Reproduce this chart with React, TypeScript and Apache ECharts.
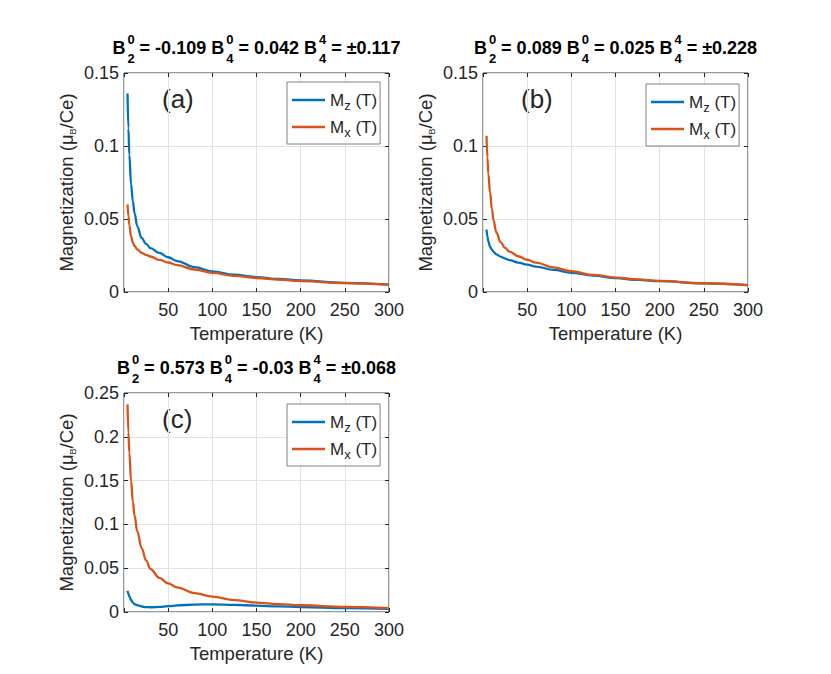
import React, { useEffect, useRef } from "react";
import * as echarts from "echarts";

// ---------- data ----------
const temperature = [4, 5, 6, 8, 10, 12, 15, 20, 25, 30, 40, 50, 60, 80, 100, 125, 150, 175, 200, 250, 300];

const mzA = [0.136, 0.112, 0.094, 0.074, 0.062, 0.054, 0.045, 0.037, 0.033, 0.030, 0.0268, 0.0238, 0.0212, 0.0170, 0.0141, 0.0118, 0.0102, 0.0089, 0.0079, 0.0063, 0.0051];
const mxA = [0.060, 0.052, 0.046, 0.038, 0.034, 0.0315, 0.0292, 0.0268, 0.0254, 0.0243, 0.0220, 0.0202, 0.0184, 0.0154, 0.0131, 0.0111, 0.0096, 0.0085, 0.0075, 0.0061, 0.0050];

const mzB = [0.0428, 0.038, 0.0348, 0.031, 0.029, 0.0275, 0.0258, 0.0242, 0.0229, 0.0218, 0.0201, 0.0187, 0.0174, 0.0151, 0.0132, 0.0112, 0.0095, 0.0083, 0.0074, 0.0059, 0.0047];
const mxB = [0.107, 0.092, 0.081, 0.068, 0.057, 0.049, 0.041, 0.034, 0.0302, 0.0276, 0.0245, 0.0221, 0.0201, 0.0168, 0.0143, 0.0117, 0.0099, 0.0086, 0.0076, 0.0060, 0.0047];

const mzC = [0.0243, 0.021, 0.018, 0.0138, 0.0108, 0.0089, 0.0078, 0.0063, 0.0056, 0.0054, 0.0058, 0.0067, 0.0075, 0.0085, 0.0087, 0.0082, 0.0072, 0.0064, 0.0057, 0.0045, 0.0036];
const mxC = [0.237, 0.205, 0.182, 0.150, 0.126, 0.110, 0.092, 0.073, 0.059, 0.049, 0.039, 0.0327, 0.028, 0.0215, 0.0175, 0.0136, 0.0108, 0.0090, 0.0077, 0.0058, 0.0044];

const panelLabels = ["(a)", "(b)", "(c)"];
const b20 = ["-0.109", "0.089", "0.573"];
const b40 = ["0.042", "0.025", "-0.03"];
const b44 = ["±0.117", "±0.228", "±0.068"];
const yMax = [0.15, 0.15, 0.25];
const xTicks = { min: 0, max: 300, interval: 50 };
const yInterval = 0.05;

const mzSeries = [mzA, mzB, mzC];
const mxSeries = [mxA, mxB, mxC];

// ---------- style ----------
const FONT = "'Liberation Sans', Arial, Helvetica, sans-serif";
const TXT = "#262626";
const BLUE = "#0072BD";
const RED = "#D95319";

const grids = [
  { left: 124, top: 73, width: 265, height: 219 },
  { left: 483, top: 73, width: 265, height: 219 },
  { left: 124, top: 393, width: 265, height: 219 },
];
const legendPos = [
  { left: 287, top: 82 },
  { left: 646, top: 84 },
  { left: 287, top: 404 },
];

function measure(text: string, font: string): number {
  const c = document.createElement("canvas");
  const ctx = c.getContext("2d")!;
  ctx.font = font;
  return ctx.measureText(text).width;
}

function titleElements(p: number) {
  const g = grids[p];
  const cx = g.left + g.width / 2;
  const cy = g.top - 25;
  const mainFont = `bold 18px ${FONT}`;
  const scriptFont = `bold 13px ${FONT}`;
  const segs: any[] = [
    { main: "B" },
    { sup: "0", sub: "2" },
    { main: ` = ${b20[p]} B` },
    { sup: "0", sub: "4" },
    { main: ` = ${b40[p]} B` },
    { sup: "4", sub: "4" },
    { main: ` = ${b44[p]}` },
  ];
  let total = 0;
  segs.forEach((s) => {
    if (s.main) s.w = measure(s.main, mainFont);
    else s.w = Math.max(measure(s.sup, scriptFont), measure(s.sub, scriptFont)) + 2;
    total += s.w;
  });
  let x = cx - total / 2;
  const els: any[] = [];
  const st = (text: string, font: string) => ({
    text,
    font,
    fill: "#000",
    textAlign: "left",
    textVerticalAlign: "middle",
    align: "left",
    verticalAlign: "middle",
  });
  segs.forEach((s) => {
    if (s.main) {
      els.push({ type: "text", x, y: cy, silent: true, style: st(s.main, mainFont) });
    } else {
      els.push({ type: "text", x: x + 2, y: cy - 9, silent: true, style: st(s.sup, scriptFont) });
      els.push({ type: "text", x: x + 2, y: cy + 10, silent: true, style: st(s.sub, scriptFont) });
    }
    x += s.w;
  });
  return els;
}

export default function App() {
  const ref = useRef<HTMLDivElement>(null);

  useEffect(() => {
    if (!ref.current) return;
    const chart = echarts.init(ref.current, null, { renderer: "svg" });

    const xAxes: any[] = [];
    const yAxes: any[] = [];
    const series: any[] = [];
    const legends: any[] = [];
    const graphics: any[] = [];

    grids.forEach((g, i) => {
      xAxes.push({
        type: "value",
        gridIndex: i,
        position: "bottom",
        min: xTicks.min,
        max: xTicks.max,
        interval: xTicks.interval,
        name: "Temperature (K)",
        nameLocation: "middle",
        nameGap: 32,
        nameTextStyle: { fontFamily: FONT, fontSize: 18.5, color: TXT },
        axisLine: { show: false, onZero: false },
        axisTick: { show: true, inside: true, length: 4, lineStyle: { color: TXT } },
        axisLabel: {
          margin: 9,
          fontFamily: FONT,
          fontSize: 18,
          color: TXT,
          formatter: (v: number) => (v === 0 ? "" : String(v)),
        },
        splitLine: { show: true, lineStyle: { color: "#e3e3e3", width: 1 } },
      });
      yAxes.push({
        type: "value",
        gridIndex: i,
        position: "left",
        min: 0,
        max: yMax[i],
        interval: yInterval,
        name: "{a|Magnetization (μ}{b|B}{a|/Ce)}",
        nameLocation: "middle",
        nameRotate: 90,
        nameGap: 47,
        nameTextStyle: {
          fontFamily: FONT,
          color: TXT,
          rich: {
            a: { fontFamily: FONT, fontSize: 18.5, color: TXT, lineHeight: 22 },
            b: { fontFamily: FONT, fontSize: 9, color: TXT, lineHeight: 6, verticalAlign: "bottom" },
          },
        },
        axisLine: { show: false, onZero: false },
        axisTick: { show: true, inside: true, length: 4, lineStyle: { color: TXT } },
        axisLabel: { margin: 5, fontFamily: FONT, fontSize: 18, color: TXT },
        splitLine: { show: true, lineStyle: { color: "#e3e3e3", width: 1 } },
      });

      const nameZ = `Mz ${panelLabels[i]}`;
      const nameX = `Mx ${panelLabels[i]}`;
      series.push({
        type: "line",
        name: nameZ,
        xAxisIndex: i,
        yAxisIndex: i,
        data: temperature.map((t, k) => [t, mzSeries[i][k]]),
        showSymbol: false,
        smooth: 0.4,
        smoothMonotone: "x",
        color: BLUE,
        lineStyle: { color: BLUE, width: 2.3 },
        z: 3,
      });
      series.push({
        type: "line",
        name: nameX,
        xAxisIndex: i,
        yAxisIndex: i,
        data: temperature.map((t, k) => [t, mxSeries[i][k]]),
        showSymbol: false,
        smooth: 0.4,
        smoothMonotone: "x",
        color: RED,
        lineStyle: { color: RED, width: 2.3 },
        z: 4,
      });

      legends.push({
        data: [nameZ, nameX],
        orient: "vertical",
        left: legendPos[i].left,
        top: legendPos[i].top,
        padding: [6, 3, 5, 5],
        itemGap: 3,
        itemWidth: 33,
        itemHeight: 2.5,
        icon: "rect",
        selectedMode: false,
        backgroundColor: "#fff",
        borderColor: "#808080",
        borderWidth: 1,
        borderRadius: 0,
        formatter: (name: string) =>
          name.startsWith("Mz") ? "{m|M}{s|z}{m| (T)}" : "{m|M}{s|x}{m| (T)}",
        textStyle: {
          color: TXT,
          fontFamily: FONT,
          lineHeight: 24,
          rich: {
            m: { fontFamily: FONT, fontSize: 17, color: TXT, lineHeight: 24 },
            s: { fontFamily: FONT, fontSize: 13, color: TXT, lineHeight: 5, verticalAlign: "bottom" },
          },
        },
      });

      graphics.push({
        type: "text",
        left: g.left + 54 - 16,
        top: g.top + 28 - 15,
        silent: true,
        style: { text: panelLabels[i], font: `26px ${FONT}`, fill: TXT },
      });
      titleElements(i).forEach((e) => graphics.push(e));
    });

    // top / right mirror axes (ticks only), like MATLAB's box
    grids.forEach((g, i) => {
      xAxes.push({
        type: "value",
        gridIndex: i,
        position: "top",
        min: xTicks.min,
        max: xTicks.max,
        interval: xTicks.interval,
        axisLine: { show: false, onZero: false },
        axisTick: { show: true, inside: true, length: 4, lineStyle: { color: TXT } },
        axisLabel: { show: false },
        splitLine: { show: false },
      });
      yAxes.push({
        type: "value",
        gridIndex: i,
        position: "right",
        min: 0,
        max: yMax[i],
        interval: yInterval,
        axisLine: { show: false, onZero: false },
        axisTick: { show: true, inside: true, length: 4, lineStyle: { color: TXT } },
        axisLabel: { show: false },
        splitLine: { show: false },
      });
    });

    chart.setOption({
      animation: false,
      backgroundColor: "#fff",
      grid: grids.map((g) => ({
        ...g,
        show: true,
        borderColor: "#333",
        borderWidth: 1,
        backgroundColor: "transparent",
        containLabel: false,
      })),
      xAxis: xAxes,
      yAxis: yAxes,
      legend: legends,
      series,
      graphic: graphics,
    });

    return () => chart.dispose();
  }, []);

  return (
    <div
      ref={ref}
      style={{ position: "fixed", left: 0, top: 0, width: 831, height: 674, background: "#fff" }}
    />
  );
}
